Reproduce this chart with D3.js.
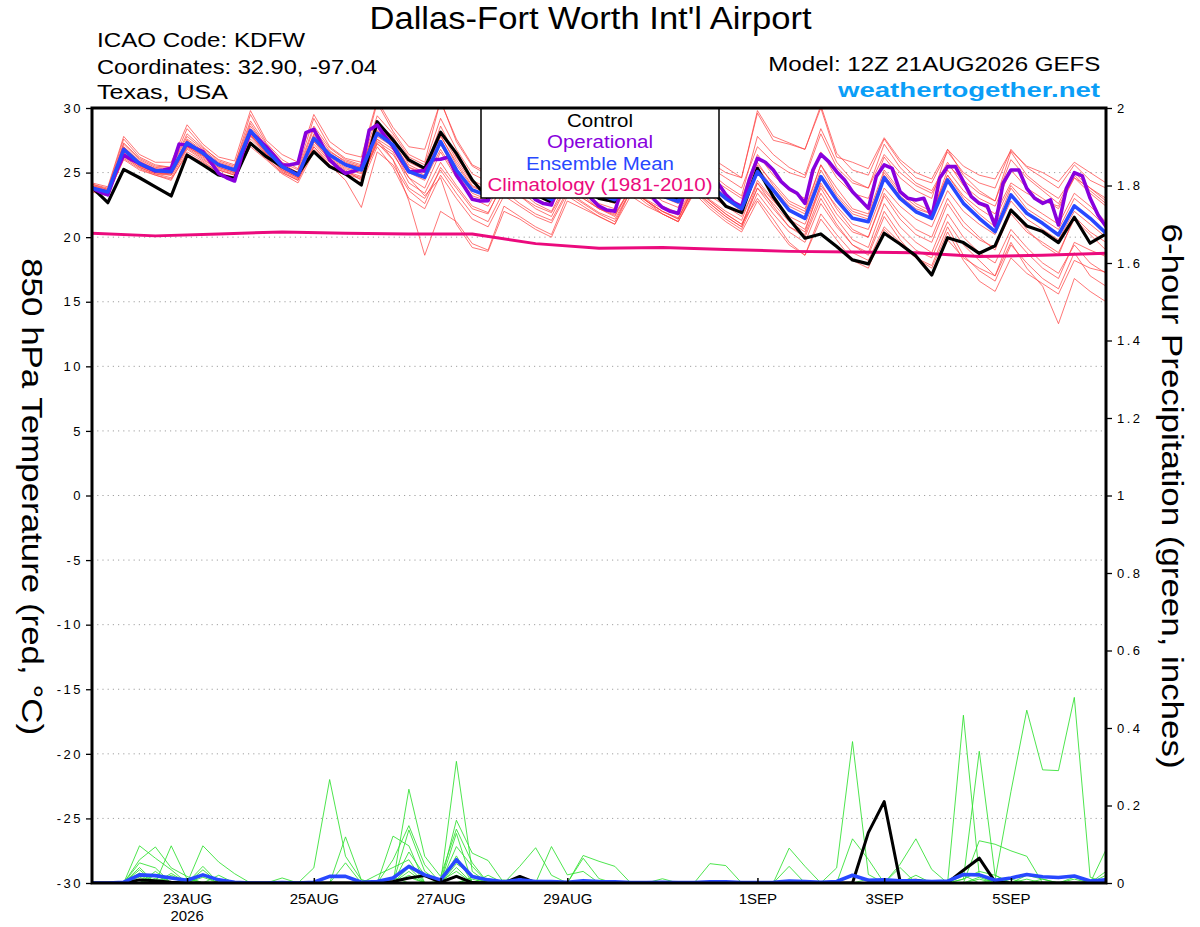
<!DOCTYPE html>
<html><head><meta charset="utf-8">
<script src="https://cdn.jsdelivr.net/npm/d3@7"></script>
<style>
body{margin:0;background:#fff;}
svg text{font-family:"Liberation Sans",Arial,Helvetica,sans-serif;}
</style></head><body>
<svg id="chart" width="1200" height="927"></svg>
<script>
// ---------------- DATA ----------------
const startTime = "2026-08-21T12:00:00Z";   // first forecast time (6-hourly steps)
const tempTicks = [-30,-25,-20,-15,-10,-5,0,5,10,15,20,25,30];
const precipTicks = [0,0.2,0.4,0.6,0.8,1,1.2,1.4,1.6,1.8,2];
const xTickDates = ["2026-08-23","2026-08-25","2026-08-27","2026-08-29","2026-09-01","2026-09-03","2026-09-05"];
const xTickLabels = ["23AUG","25AUG","27AUG","29AUG","1SEP","3SEP","5SEP"];
const yearLabel = "2026";

// control (black), 6-hourly
const controlTemp = [
 23.86,22.67,25.25,24.6,23.9,23.19,26.36,25.6,24.81,24.56,
 27.27,26.23,25.46,24.89,26.62,25.46,24.89,24.04,28.94,27.52,
 25.98,25.33,28.12,26.49,24.43,23.0,25.5,24.3,23.3,22.7,
 25.0,23.8,23.0,22.75,25.2,24.0,23.2,22.9,25.0,23.8,
 22.4,21.9,25.33,23.13,21.4,19.92,20.25,19.27,18.24,17.93,
 20.30,19.47,18.55,17.07,19.96,19.58,18.75,19.34,22.10,20.87,
 20.43,19.58,21.54,19.53,20.25];
// operational (purple), 3-hourly
const operationalTemp = [
 23.8,23.5,23.27,25.0,26.36,26.0,25.72,25.4,25.12,25.2,
 25.33,27.2,27.14,26.9,26.62,25.8,24.94,24.6,24.35,26.5,
 28.17,27.6,27.0,26.3,25.59,25.6,25.72,28.1,28.35,27.2,
 25.98,25.4,24.94,25.1,25.33,28.3,28.68,27.8,27.0,26.0,
 25.07,25.1,25.15,26.0,26.03,26.2,24.82,23.9,22.93,22.8,
 22.83,24.5,25.8,25.3,24.5,23.6,22.9,22.6,22.5,24.2,
 25.5,25.0,24.0,23.0,22.4,22.1,22.0,24.0,25.4,24.8,
 23.9,22.9,22.3,22.0,21.85,23.8,25.4,25.0,24.6,24.2,
 23.3,22.7,22.36,24.5,26.1,25.8,25.2,24.3,23.75,23.4,
 22.62,25.2,26.41,25.85,25.07,24.43,23.52,22.88,22.23,24.69,
 25.59,25.33,23.52,23.01,22.88,23.01,21.54,24.56,25.46,25.46,
 24.30,23.14,22.62,22.41,20.87,24.17,25.2,25.2,23.78,23.01,
 22.62,22.88,20.94,23.78,24.99,24.74,23.01,21.72,20.82];
// ensemble mean (blue), 6-hourly
const meanTemp = [
 23.8,23.5,26.8,25.7,25.15,25.07,27.3,26.5,25.6,25.2,
 28.25,26.75,25.46,24.8,27.65,26.36,25.6,25.2,28.04,27.14,
 25.07,24.63,27.4,25.2,23.65,23.2,25.6,24.5,23.5,22.9,
 25.3,24.2,23.3,22.9,25.0,24.0,23.2,22.75,25.2,24.0,
 23.0,22.2,25.07,23.65,22.1,21.46,24.69,22.88,21.46,21.2,
 24.61,23.01,21.97,21.46,24.43,22.62,21.46,20.43,23.27,21.85,
 21.07,20.17,22.42,21.46,20.30];
// climatology 1981-2010 (magenta), daily
const climTemp = [20.3,20.1,20.25,20.4,20.3,20.25,20.25,19.5,19.15,19.2,19.05,18.9,18.85,18.8,18.5,18.6,18.75];

// ensemble members (red), 6-hourly
const memberTemps = [
 [24.1,23.8,27.6,26.2,25.6,25.4,28.4,27.0,25.9,25.5,29.5,27.3,26.0,25.3,29.2,27.0,26.1,25.8,30.4,28.2,26.4,25.8,30.6,27.4,25.5,24.8,27.8,26.2,25.0,24.4,27.4,26.0,24.8,24.2,27.0,25.6,24.6,24.0,27.2,26.2,25.4,24.6,29.6,27.5,27.2,26.8,30.2,26.5,25.2,24.8,27.6,25.8,24.6,24.2,26.6,25.0,24.2,23.8,26.8,25.4,24.6,23.8,25.6,24.4,23.8],
 [23.6,23.3,26.2,25.4,24.9,24.6,26.8,26.0,25.2,24.8,27.4,26.2,25.0,24.4,27.0,25.8,25.0,24.6,27.2,26.4,24.6,23.8,26.6,24.6,23.0,22.4,24.6,23.6,22.6,22.0,24.4,23.2,22.2,21.6,23.8,22.8,21.8,21.2,23.6,22.4,21.4,20.6,23.4,21.8,20.4,19.6,22.6,20.8,19.4,18.8,22.0,20.2,19.0,18.4,21.2,19.4,18.2,17.0,19.6,17.6,16.2,13.3,16.8,15.8,15.0],
 [23.9,23.4,26.6,25.6,25.0,24.8,27.0,26.3,25.4,25.0,28.0,26.5,25.2,24.6,27.4,26.0,25.2,24.4,27.6,26.0,22.8,18.6,22.0,21.2,19.5,19.0,22.4,21.6,20.8,20.2,23.2,22.4,21.6,21.0,23.6,22.8,22.0,21.4,24.0,23.2,22.4,21.6,24.2,22.8,21.6,21.0,24.0,22.4,21.0,20.6,23.8,22.4,21.4,20.8,23.6,22.0,21.0,20.2,22.8,21.4,20.6,19.8,22.0,21.0,20.0],
 [24.0,23.7,27.2,26.0,25.4,25.3,27.8,26.8,25.8,25.4,28.8,27.0,25.7,25.0,28.4,26.7,25.8,25.4,29.0,27.6,25.8,25.2,28.6,26.2,24.4,23.8,26.6,25.4,24.4,23.8,26.2,25.0,24.0,23.5,25.8,24.8,24.0,23.4,26.4,25.4,24.6,23.8,27.0,25.8,25.0,24.6,28.0,25.4,24.2,23.8,26.4,25.0,24.0,23.4,25.6,24.4,23.4,22.8,26.0,24.6,23.6,22.6,25.0,23.8,22.8],
 [23.7,23.4,26.4,25.5,25.0,24.9,27.0,26.2,25.3,24.9,27.8,26.4,25.2,24.6,27.0,25.6,24.4,22.3,26.6,25.6,23.6,22.6,25.4,23.8,22.2,21.8,24.4,23.2,22.2,21.6,24.0,23.0,22.2,21.7,23.8,22.8,22.0,21.5,23.8,22.6,21.6,20.8,24.2,22.4,20.8,20.2,23.4,21.4,19.8,19.2,22.6,20.8,19.6,18.8,21.8,20.0,18.8,18.0,20.6,19.2,18.0,17.2,19.4,18.0,17.2],
 [23.8,23.6,27.0,25.8,25.3,25.2,27.5,26.6,25.7,25.3,28.4,26.9,25.5,24.9,27.9,26.5,25.7,25.4,28.6,27.4,25.4,24.8,27.9,25.6,23.9,23.4,25.8,24.6,23.6,23.0,25.4,24.3,23.4,23.0,25.1,24.1,23.3,22.8,25.3,24.2,23.2,22.4,25.4,23.8,22.4,21.8,25.2,23.2,21.8,21.4,25.0,23.4,22.4,21.8,24.8,23.0,21.8,20.8,23.8,22.2,21.4,20.6,23.0,22.0,20.8],
 [23.9,23.5,26.5,25.6,25.1,25.0,27.1,26.4,25.5,25.1,27.9,26.6,25.3,24.7,27.5,26.2,25.4,25.0,27.8,27.0,25.0,24.4,26.8,24.8,23.2,22.8,25.0,24.0,23.0,22.4,24.6,23.6,22.6,22.2,24.2,23.2,22.4,21.9,24.0,22.8,21.8,21.0,23.8,22.2,20.8,20.0,23.0,21.0,19.4,18.6,21.6,19.8,18.4,17.6,20.4,18.2,16.6,15.8,18.4,17.2,16.4,15.6,18.2,17.6,17.3],
 [24.2,23.9,27.8,26.4,25.8,25.8,28.7,27.2,26.2,25.9,29.8,27.5,26.4,25.8,29.5,27.4,26.5,26.2,30.6,28.5,27.0,26.8,30.5,27.6,25.6,25.0,27.4,26.0,25.2,24.6,27.0,25.8,24.8,24.2,26.6,25.4,24.4,23.8,26.8,25.8,25.0,24.6,29.8,27.8,27.3,26.8,30.0,26.2,25.8,25.3,27.7,26.0,25.0,24.5,26.8,25.5,24.8,24.5,26.7,25.5,25.0,24.3,25.8,25.0,24.2],
 [23.7,23.4,26.7,25.7,25.2,25.2,27.4,26.6,25.6,25.1,28.2,26.8,25.5,24.8,27.7,26.4,25.6,25.3,28.3,27.2,25.2,24.7,27.2,25.0,23.4,22.9,25.2,24.2,23.2,22.7,25.0,23.9,23.0,22.6,24.8,23.7,22.8,22.3,24.9,23.8,22.9,22.0,25.6,24.2,22.8,22.2,25.6,23.8,22.2,21.8,25.2,23.6,22.6,22.0,24.8,23.2,22.2,21.4,24.0,22.6,21.8,21.0,23.4,22.4,21.2],
 [23.6,23.3,26.0,25.2,24.8,24.5,26.4,25.8,25.0,24.6,27.0,26.0,24.9,24.2,26.6,25.4,24.8,24.2,27.0,25.4,23.0,22.2,24.8,23.0,21.4,20.8,23.2,22.4,21.6,21.1,23.4,22.6,21.8,21.2,23.6,22.8,22.0,21.4,23.8,22.8,21.8,21.0,23.0,21.4,19.6,18.6,21.4,19.8,18.2,17.6,20.6,19.4,18.4,17.8,20.8,18.6,17.4,16.6,19.4,18.0,16.8,16.0,18.8,17.0,16.2],
 [24.0,23.6,27.0,25.9,25.3,25.0,27.6,26.7,25.7,25.3,28.6,27.0,25.6,25.0,28.0,26.6,25.9,25.5,28.8,27.8,25.6,25.0,28.2,26.0,24.2,23.6,26.2,25.0,24.0,23.4,25.8,24.6,23.6,23.0,25.4,24.4,23.6,23.0,25.6,24.6,23.8,23.0,26.4,24.8,23.6,23.0,26.6,24.6,23.4,23.0,26.2,24.6,23.6,23.0,26.8,24.8,23.6,22.8,26.6,24.8,23.8,23.0,24.8,23.6,22.6],
 [23.8,23.4,26.3,25.4,24.9,24.8,26.9,26.1,25.2,24.8,27.6,26.4,25.1,24.5,27.2,25.9,25.1,24.7,27.4,26.6,24.2,23.4,25.8,24.0,22.4,21.9,24.2,23.2,22.4,21.9,24.0,23.0,22.2,21.8,23.8,22.9,22.2,21.7,23.9,22.9,22.0,21.3,24.4,22.9,21.4,20.6,23.8,21.8,20.4,20.0,23.2,21.4,20.2,19.6,22.6,20.8,19.8,19.2,21.8,20.4,19.6,18.8,21.4,20.2,19.0],
 [24.1,23.7,27.3,26.1,25.5,25.4,28.0,26.9,26.0,25.6,29.0,27.2,25.8,25.2,28.6,26.9,26.0,25.6,29.4,28.0,26.2,25.6,29.2,26.8,24.9,24.3,26.9,25.6,24.6,24.0,26.4,25.2,24.2,23.6,26.0,25.0,24.2,23.6,26.2,25.0,24.0,23.2,27.8,26.4,25.4,24.8,28.4,25.8,24.4,23.8,27.2,25.4,24.2,23.6,25.8,24.0,23.0,22.4,25.2,23.8,23.0,22.2,24.6,23.4,22.4],
 [23.5,23.2,26.1,25.3,24.8,24.4,26.6,25.9,25.0,24.5,27.2,26.1,25.0,24.4,26.8,25.6,24.9,24.5,27.3,26.0,23.8,23.0,25.2,23.4,21.8,21.2,23.6,22.6,21.8,21.3,23.6,22.7,21.9,21.4,23.6,22.6,21.8,21.2,23.4,22.2,21.2,20.4,22.8,21.0,19.4,18.6,21.8,20.2,18.8,18.2,20.8,19.6,18.6,17.2,19.8,18.4,17.6,17.0,20.2,18.8,17.6,16.8,19.6,19.0,18.5],
 [23.9,23.6,26.9,25.8,25.2,25.1,27.3,26.5,25.6,25.2,28.3,26.8,25.4,24.8,27.8,26.4,25.6,25.2,28.2,27.4,25.4,25.0,27.8,25.8,24.0,23.4,25.6,24.6,23.6,23.0,25.2,24.2,23.3,22.9,24.8,23.9,23.1,22.6,25.0,23.9,23.0,22.4,25.8,24.0,22.6,22.0,25.6,23.4,22.0,21.6,24.8,23.2,22.2,21.8,25.2,23.6,22.6,21.8,24.2,23.4,22.8,22.4,24.6,23.8,23.0],
 [23.7,23.4,26.5,25.5,25.0,24.9,27.1,26.3,25.4,25.0,27.9,26.5,25.3,24.7,27.4,26.1,25.3,24.9,27.6,26.8,24.6,23.2,24.6,21.0,19.2,18.9,22.0,21.4,20.6,20.0,22.8,22.2,21.6,21.0,23.2,22.4,21.8,21.2,23.6,22.6,21.6,20.8,23.8,22.6,21.2,20.4,24.2,22.2,20.6,20.0,23.4,21.8,20.6,20.0,23.0,21.2,20.0,19.0,22.2,20.6,19.4,18.6,21.6,20.4,19.6]
];

// 6-hour precipitation (inches), 6-hourly
const controlPrecip = [
 0,0,0,0.008,0.006,0.002,0,0,0,0,
 0,0,0,0,0,0,0,0,0,0.004,
 0.013,0.019,0.002,0.017,0.001,0,0,0.017,0.001,0,
 0,0,0,0,0,0,0,0,0,0,
 0,0,0,0,0,0,0,0,0,0.13,
 0.21,0.005,0.007,0.001,0.001,0.033,0.064,0.003,0,0,
 0,0,0,0,0];
const meanPrecip = [
 0,0,0.002,0.021,0.019,0.013,0.007,0.021,0.008,0.002,
 0,0,0.001,0,0.002,0.017,0.017,0.002,0.004,0.013,
 0.043,0.021,0.008,0.06,0.017,0.008,0.003,0.008,0.004,0.004,
 0.002,0.006,0.004,0.003,0.001,0.001,0.002,0.001,0.001,0.003,
 0.003,0.001,0.001,0.002,0.005,0.004,0.002,0.004,0.02,0.007,
 0.008,0.006,0.006,0.004,0.005,0.022,0.021,0.007,0.013,0.022,
 0.016,0.014,0.018,0.005,0.008];
const memberPrecips = [
 [0,0,0,0.096,0.064,0.034,0,0.043,0,0, 0,0,0,0,0,0,0.052,0,0,0.06, 0.148,0.047,0,0.094,0.043,0,0,0,0,0, 0,0,0,0,0,0,0,0,0,0, 0,0,0,0,0.043,0,0,0,0,0, 0,0,0,0,0,0.02,0,0,0,0, 0,0,0,0,0.03],
 [0,0,0,0.06,0.093,0.039,0.017,0,0,0, 0,0,0,0,0,0,0,0,0,0.121, 0.096,0,0,0.162,0.077,0.058,0,0,0,0, 0,0,0,0,0,0,0,0,0,0, 0,0,0,0,0,0,0,0,0.114,0.061, 0,0,0,0,0,0,0.109,0.1,0.083,0.069, 0,0,0,0,0.086],
 [0,0,0,0.052,0.039,0,0,0.096,0.054,0.024, 0,0,0,0,0,0,0,0,0,0, 0.242,0.069,0.017,0.139,0.052,0,0,0.043,0.091,0.02, 0,0,0,0,0,0,0,0,0,0, 0,0,0,0,0,0,0,0,0,0, 0,0,0,0,0,0,0,0,0,0, 0,0,0,0,0],
 [0,0,0,0.034,0,0.096,0.01,0,0.02,0, 0,0,0,0,0.039,0.267,0.069,0.008,0,0, 0,0,0,0.128,0,0.02,0,0,0,0, 0,0,0,0,0,0,0,0,0,0, 0,0,0,0,0,0,0,0.039,0.365,0.022, 0,0,0,0,0,0,0,0,0,0, 0,0,0,0,0],
 [0,0,0,0.026,0,0,0,0.034,0,0, 0,0,0.013,0,0,0,0.119,0.008,0,0, 0.137,0.03,0,0.314,0.03,0,0,0,0,0, 0,0.071,0.056,0.043,0,0,0,0,0,0, 0,0,0,0,0,0,0,0,0,0, 0,0.048,0.114,0.035,0,0,0,0,0,0, 0,0,0,0,0],
 [0,0,0,0,0.02,0,0,0,0,0, 0,0,0,0,0,0,0,0,0.021,0.04, 0.06,0,0,0,0,0,0,0,0,0.094, 0.021,0.03,0,0,0,0,0,0,0,0.05, 0.045,0,0,0,0,0,0,0,0,0, 0,0,0,0,0,0.433,0.02,0,0,0, 0,0,0,0,0],
 [0,0,0,0,0,0.02,0,0,0,0, 0,0,0,0,0,0,0,0,0,0, 0,0,0,0,0,0,0,0,0,0, 0,0.064,0.011,0,0,0,0.011,0,0,0, 0,0,0,0,0.09,0.043,0,0,0,0, 0,0,0,0,0,0.01,0.34,0.02,0,0, 0,0,0,0,0],
 [0,0,0,0.015,0,0,0.012,0,0,0, 0,0,0,0,0,0,0,0,0,0, 0,0,0,0,0,0,0.008,0,0,0, 0,0,0,0,0,0,0,0,0,0, 0,0,0,0,0,0,0,0,0,0, 0,0.04,0,0,0,0,0,0.01,0.236,0.446, 0.292,0.29,0.479,0.015,0],
 [0,0,0,0,0.03,0,0,0.02,0,0, 0,0,0,0,0,0,0,0,0,0, 0.04,0,0,0.05,0.02,0,0,0,0,0, 0,0,0,0,0,0,0,0,0,0, 0,0,0,0,0,0,0,0,0,0.01, 0,0,0.02,0,0,0,0,0,0,0.02, 0.01,0,0.015,0,0],
 [0,0,0,0.04,0,0.025,0,0,0,0, 0,0,0,0,0,0,0,0,0,0, 0.08,0.02,0,0.07,0,0,0,0,0,0, 0,0,0,0,0,0,0,0,0,0, 0,0,0,0,0,0,0,0,0,0, 0,0,0,0,0,0.01,0.03,0.02,0,0, 0,0,0,0,0.02],
 [0,0,0,0,0.012,0,0,0,0,0, 0,0,0,0,0,0,0,0,0,0, 0.03,0,0,0,0.015,0,0,0,0,0, 0,0,0,0,0,0,0,0,0,0, 0,0,0,0,0,0,0,0,0,0, 0,0,0,0,0,0,0,0,0,0, 0.01,0,0,0,0],
 [0,0,0,0,0,0.015,0,0,0,0, 0,0,0,0,0,0,0,0,0,0.015, 0,0,0,0.04,0,0,0,0,0,0, 0,0,0,0,0,0,0,0,0,0, 0,0,0,0,0,0,0,0,0,0, 0,0,0,0,0,0,0.015,0,0,0.01, 0,0,0,0,0],
 [0,0,0,0.02,0,0,0,0,0,0, 0,0,0,0,0,0,0,0,0,0, 0.02,0,0,0,0,0,0,0,0,0, 0,0,0,0,0,0,0,0,0,0, 0,0,0,0,0,0,0,0,0,0, 0,0,0,0,0,0,0.01,0,0,0, 0,0,0,0,0],
 [0,0,0,0,0,0,0,0.015,0,0, 0,0,0,0,0,0,0,0,0,0, 0,0,0,0.02,0,0,0,0,0,0, 0,0,0,0,0,0,0,0,0,0, 0,0,0,0,0,0,0,0,0,0, 0,0,0,0,0,0,0,0,0.01,0, 0,0,0.01,0,0],
 [0,0,0,0,0,0,0,0,0,0, 0,0,0,0,0,0,0,0,0,0, 0.015,0,0,0,0.01,0,0,0,0,0, 0,0,0,0,0,0,0,0,0,0, 0,0,0,0,0,0,0,0,0,0, 0,0,0,0,0,0,0,0,0,0, 0,0,0,0,0],
 [0,0,0,0,0,0,0,0,0,0, 0,0,0,0,0,0,0,0,0,0, 0,0,0.005,0.03,0,0,0,0,0,0, 0,0,0,0,0,0,0,0,0,0, 0,0,0,0,0,0,0,0,0,0, 0,0,0,0,0,0,0,0,0,0, 0,0,0,0,0]
];

// ---------------- DRAWING ----------------
const svg = d3.select("#chart");
const plot = {left: 92, right: 1106, top: 108, bottom: 883};
const t0 = new Date(startTime);
const HOUR = 3600e3;
const timeAt = (i, stepH) => new Date(t0.getTime() + i * stepH * HOUR);

const x = d3.scaleUtc()
  .domain([t0, timeAt(controlTemp.length - 1, 6)])
  .range([plot.left, plot.right]);
const yT = d3.scaleLinear().domain([tempTicks[0], tempTicks[tempTicks.length - 1]]).range([plot.bottom, plot.top]);
const yP = d3.scaleLinear().domain([precipTicks[0], precipTicks[precipTicks.length - 1]]).range([plot.bottom, plot.top]);

const lineT = stepH => d3.line().x((d, i) => x(timeAt(i, stepH))).y(d => yT(d));
const lineP = d3.line().x((d, i) => x(timeAt(i, 6))).y(d => yP(d));

svg.append("rect").attr("width", 1200).attr("height", 927).attr("fill", "#fff");
svg.append("defs").append("clipPath").attr("id", "plotClip")
  .append("rect").attr("x", plot.left).attr("y", plot.top)
  .attr("width", plot.right - plot.left).attr("height", plot.bottom - plot.top);

// dotted grid
svg.append("g").selectAll("line")
  .data(tempTicks.filter(v => v > yT.domain()[0] && v < yT.domain()[1]))
  .join("line")
  .attr("x1", plot.left).attr("x2", plot.right)
  .attr("y1", d => yT(d)).attr("y2", d => yT(d))
  .attr("stroke", "#a0a0a0").attr("stroke-width", 1).attr("stroke-dasharray", "1.2,4");

const gData = svg.append("g").attr("clip-path", "url(#plotClip)")
  .attr("fill", "none").attr("stroke-linejoin", "round").attr("stroke-linecap", "round");

gData.selectAll("path.memT").data(memberTemps).join("path").attr("class", "memT")
  .attr("d", lineT(6)).attr("stroke", "#ff4040").attr("stroke-width", 0.85).attr("stroke-opacity", 0.85);
gData.selectAll("path.memP").data(memberPrecips).join("path").attr("class", "memP")
  .attr("d", lineP).attr("stroke", "#2ee02e").attr("stroke-width", 0.85);

gData.append("path").attr("d", lineT(24)(climTemp)).attr("stroke", "#eb0a7d").attr("stroke-width", 3);
gData.append("path").attr("d", lineT(6)(controlTemp)).attr("stroke", "#000").attr("stroke-width", 3.2);
gData.append("path").attr("d", lineT(3)(operationalTemp)).attr("stroke", "#8800dd").attr("stroke-width", 3.6);
gData.append("path").attr("d", lineT(6)(meanTemp)).attr("stroke", "#2848ff").attr("stroke-width", 3.6);
gData.append("path").attr("d", lineP(controlPrecip)).attr("stroke", "#000").attr("stroke-width", 3);
gData.append("path").attr("d", lineP(meanPrecip)).attr("stroke", "#2848ff").attr("stroke-width", 3.6);

// legend
const legendItems = [
  {text: "Control", color: "#000", y: 127, w: 66},
  {text: "Operational", color: "#8800dd", y: 148, w: 106},
  {text: "Ensemble Mean", color: "#2848ff", y: 169.5, w: 148},
  {text: "Climatology (1981-2010)", color: "#eb0a7d", y: 191, w: 225}
];
const lg = svg.append("g");
lg.append("rect").attr("x", 481).attr("y", 108).attr("width", 238).attr("height", 90)
  .attr("fill", "#fff").attr("stroke", "#000").attr("stroke-width", 1.5);
lg.selectAll("text").data(legendItems).join("text")
  .attr("x", 600).attr("y", d => d.y).attr("text-anchor", "middle")
  .attr("font-size", 17.5).attr("fill", d => d.color)
  .attr("textLength", d => d.w).attr("lengthAdjust", "spacingAndGlyphs")
  .text(d => d.text);

// axes
const axisFont = g => g.attr("font-family", "Liberation Sans, Arial, sans-serif").attr("font-size", 13);
const gL = svg.append("g").attr("transform", `translate(${plot.left},0)`)
  .call(d3.axisLeft(yT).tickValues(tempTicks).tickFormat(d => String(d)).tickSize(6).tickPadding(3).tickSizeOuter(0))
  .call(axisFont);
gL.select(".domain").remove();
gL.selectAll(".tick line").attr("stroke-width", 1.3);
gL.selectAll(".tick text").attr("letter-spacing", "2.5px").attr("fill", "#000");

const gR = svg.append("g").attr("transform", `translate(${plot.right},0)`)
  .call(d3.axisRight(yP).tickValues(precipTicks).tickFormat(d => String(d)).tickSize(6).tickPadding(5).tickSizeOuter(0))
  .call(axisFont);
gR.select(".domain").remove();
gR.selectAll(".tick line").attr("stroke-width", 1.3);
gR.selectAll(".tick text").attr("letter-spacing", "2.5px").attr("fill", "#000");

const tickDates = xTickDates.map(s => new Date(s + "T00:00:00Z"));
const gB = svg.append("g").attr("transform", `translate(0,${plot.bottom})`)
  .call(d3.axisBottom(x).tickValues(tickDates).tickFormat((d, i) => xTickLabels[i])
    .tickSizeInner(-5).tickSizeOuter(0).tickPadding(10))
  .call(g => g.attr("font-family", "Liberation Sans, Arial, sans-serif").attr("font-size", 15));
gB.select(".domain").remove();
gB.selectAll(".tick line").attr("stroke-width", 1.5);
gB.selectAll(".tick text").attr("fill", "#000");
svg.append("text").attr("x", x(tickDates[0])).attr("y", 920.5).attr("text-anchor", "middle")
  .attr("font-size", 15).text(yearLabel);

// frame
svg.append("rect").attr("x", plot.left).attr("y", plot.top)
  .attr("width", plot.right - plot.left).attr("height", plot.bottom - plot.top)
  .attr("fill", "none").attr("stroke", "#000").attr("stroke-width", 3);

// titles and header texts
const addText = (txt, xx, yy, size, len, opts = {}) => {
  const t = svg.append("text").attr("x", xx).attr("y", yy).attr("font-size", size)
    .attr("text-anchor", opts.anchor || "start").attr("fill", opts.fill || "#000")
    .attr("font-weight", opts.weight || "normal")
    .attr("textLength", len).attr("lengthAdjust", "spacingAndGlyphs").text(txt);
  return t;
};
addText("Dallas-Fort Worth Int'l Airport", 590.5, 29.3, 30.5, 442, {anchor: "middle"});
addText("ICAO Code: KDFW", 97, 46.7, 19.5, 208);
addText("Coordinates: 32.90, -97.04", 97, 74, 19.5, 280);
addText("Texas, USA", 97, 99.3, 19.5, 131);
addText("Model: 12Z 21AUG2026 GEFS", 768.3, 71, 20.5, 332);
addText("weathertogether.net", 838, 97, 21, 262, {fill: "#0a9ef7", weight: "bold"});

svg.append("text").attr("transform", "translate(22,496.7) rotate(90)")
  .attr("text-anchor", "middle").attr("font-size", 30)
  .attr("textLength", 477).attr("lengthAdjust", "spacingAndGlyphs")
  .text("850 hPa Temperature (red, °C)");
svg.append("text").attr("transform", "translate(1162,496) rotate(90)")
  .attr("text-anchor", "middle").attr("font-size", 30)
  .attr("textLength", 545).attr("lengthAdjust", "spacingAndGlyphs")
  .text("6-hour Precipitation (green, inches)");
</script>
</body></html>
